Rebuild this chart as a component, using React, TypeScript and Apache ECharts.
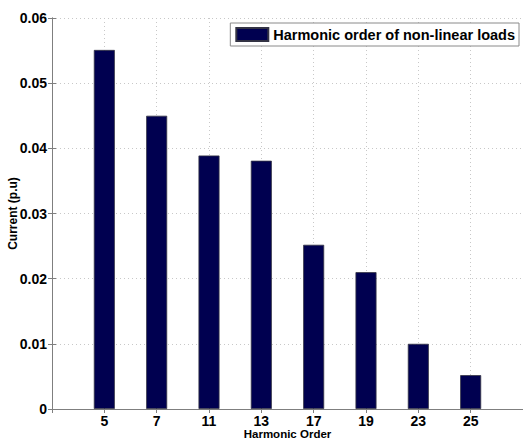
import React, { useEffect, useRef } from "react";
import * as echarts from "echarts";

const categories = ["5", "7", "11", "13", "17", "19", "23", "25"];
const currentValues = [0.0551, 0.045, 0.0389, 0.0381, 0.0252, 0.021, 0.01, 0.0052];
const yTicks = [0, 0.01, 0.02, 0.03, 0.04, 0.05, 0.06];
const seriesName = "Harmonic order of non-linear loads";

const FONT = "Liberation Sans, Arial, Helvetica, sans-serif";

export default function App() {
  const ref = useRef<HTMLDivElement>(null);
  useEffect(() => {
    if (!ref.current) return;
    const chart = echarts.init(ref.current, undefined, { renderer: "svg" });
    const axisLine = { show: true, lineStyle: { color: "#7f7f7f", width: 1 } };
    const split = { show: true, lineStyle: { color: "#c8c8c8", type: [1, 3] as any, width: 1 } };
    chart.setOption({
      animation: false,
      backgroundColor: "#ffffff",
      grid: {
        left: 52,
        top: 18,
        right: 0,
        bottom: 32,
        containLabel: false,
        outerBoundsMode: "none",
      } as any,
      legend: {
        show: true,
        data: [seriesName],
        right: 4,
        top: 23,
        orient: "vertical",
        icon: "rect",
        itemWidth: 32,
        itemHeight: 13,
        itemGap: 4,
        padding: [4, 4, 4, 5],
        borderColor: "#8a8a8a",
        borderWidth: 1,
        backgroundColor: "#ffffff",
        textStyle: { fontFamily: FONT, fontWeight: "bold", fontSize: 14.5, color: "#000" },
      },
      xAxis: [
        {
          type: "value",
          min: 0,
          max: 9,
          interval: 1,
          name: "Harmonic Order",
          nameLocation: "middle",
          nameGap: 19,
          nameMoveOverlap: false,
          nameTextStyle: {
            fontFamily: FONT,
            fontWeight: "bold",
            fontSize: 11.5,
            lineHeight: 12,
            color: "#000",
          },
          axisLine,
          axisTick: { show: true, inside: true, length: 4, lineStyle: { color: "#7f7f7f" } },
          axisLabel: {
            fontFamily: FONT,
            fontWeight: "bold",
            fontSize: 14,
            lineHeight: 14,
            color: "#000",
            margin: 5,
            formatter: (v: number) => categories[v - 1] ?? "",
          },
          splitLine: split,
        },
        {
          type: "value",
          position: "top",
          min: 0,
          max: 9,
          interval: 1,
          axisLine,
          axisTick: { show: true, inside: true, length: 4, lineStyle: { color: "#7f7f7f" } },
          axisLabel: { show: false },
          splitLine: { show: false },
        },
      ],
      yAxis: [
        {
          type: "value",
          min: 0,
          max: 0.06,
          interval: 0.01,
          name: "Current (p.u)",
          nameLocation: "middle",
          nameGap: 33,
          nameRotate: 90,
          nameMoveOverlap: false,
          nameTextStyle: { fontFamily: FONT, fontWeight: "bold", fontSize: 12, color: "#000" },
          axisLine,
          axisTick: { show: true, inside: true, length: 4, lineStyle: { color: "#7f7f7f" } },
          axisLabel: {
            fontFamily: FONT,
            fontWeight: "bold",
            fontSize: 14,
            color: "#000",
            margin: 5,
            formatter: (v: number) => {
              const t = yTicks.find((x) => Math.abs(x - v) < 1e-9);
              return t === undefined ? "" : String(+t.toFixed(2));
            },
          },
          splitLine: split,
        },
        {
          type: "value",
          position: "right",
          min: 0,
          max: 0.06,
          interval: 0.01,
          axisLine,
          axisTick: { show: true, inside: true, length: 4, lineStyle: { color: "#7f7f7f" } },
          axisLabel: { show: false },
          splitLine: { show: false },
        },
      ],
      series: [
        {
          name: seriesName,
          type: "bar",
          xAxisIndex: 0,
          yAxisIndex: 0,
          barWidth: 21,
          itemStyle: { color: "#000050", borderColor: "#333344", borderWidth: 0.8 },
          data: currentValues.map((v, i) => [i + 1, v]),
        },
      ],
    });
    return () => chart.dispose();
  }, []);
  return (
    <div
      ref={ref}
      style={{ position: "fixed", left: 0, top: 0, width: 523, height: 441, background: "#fff" }}
    />
  );
}
